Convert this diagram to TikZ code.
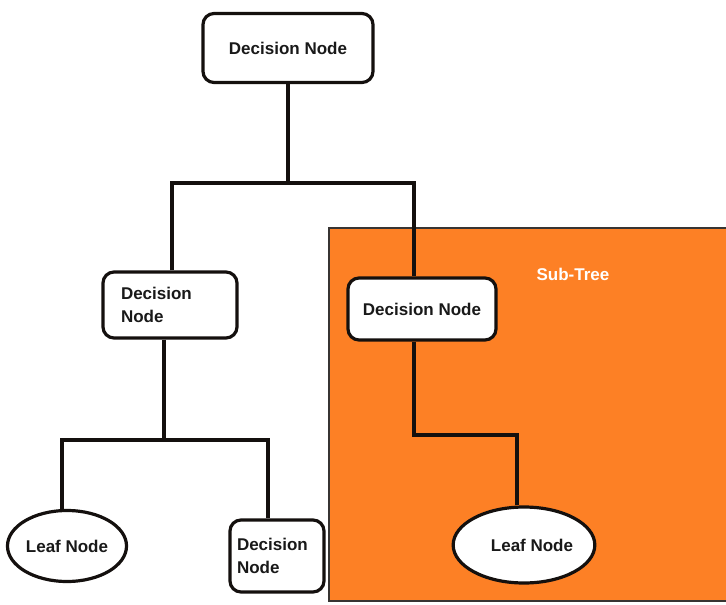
\documentclass[tikz,border=0pt]{standalone}
\usepackage{fontspec}
\setmainfont{Liberation Sans}
\usepackage{tikz}
\usetikzlibrary{shapes.geometric}
\definecolor{cSub}{RGB}{253,128,37}
\definecolor{cEdge}{RGB}{20,16,14}

\begin{document}
\begin{tikzpicture}[
  x=1pt, y=-1pt,
  font=\fontsize{17}{23}\selectfont\bfseries,
  dnode/.style={rectangle, rounded corners=11pt, draw=cEdge, line width=3.2pt,
    fill=white, text=black!90, inner sep=2pt},
  leaf/.style={ellipse, draw=cEdge, line width=3.2pt, fill=white,
    text=black!90, inner sep=1pt},
  link/.style={draw=cEdge, line width=3.4pt},
]
\useasboundingbox (0,0) rectangle (726,605);
\fill[white] (0,0) rectangle (726,605);
\draw[fill=cSub, draw=cEdge!85, line width=2pt] (329,228) rectangle (740,601);
\node[text=white] (sub) at (573,274) {Sub-Tree};

\node[dnode, minimum width=170pt, minimum height=69pt] (top) at (288,48) {Decision Node};
\node[dnode, minimum width=134pt, minimum height=66pt, text width=98pt, align=left] (ldec) at (170,305) {Decision\\Node};
\node[dnode, minimum width=148pt, minimum height=62pt] (rdec) at (422,309) {Decision Node};
\node[leaf, minimum width=118pt, minimum height=71pt] (lleaf) at (67,546) {Leaf Node};
\node[dnode, minimum width=94pt, minimum height=72pt, text width=80pt, align=left] (ddec) at (277,556) {Decision\\Node};
\node[leaf, minimum width=122pt, minimum height=76pt] (rleaf) at (524,545) {\hspace*{16pt}Leaf Node};

\coordinate (j1) at (288,183);
\coordinate (j2) at (164,440);
\coordinate (j3) at (414,435);
\draw[link] (top.south) -- (j1);
\draw[link] ([xshift=2pt]ldec.north) |- (j1) -| ([xshift=-8pt]rdec.north);
\draw[link] ([xshift=-6pt]ldec.south) -- (j2);
\draw[link] ([xshift=-5pt]lleaf.north) |- (j2) -| ([xshift=-9pt]ddec.north);
\draw[link] ([xshift=-8pt]rdec.south) -- (j3) -| ([xshift=-7pt]rleaf.north);
\end{tikzpicture}
\end{document}
